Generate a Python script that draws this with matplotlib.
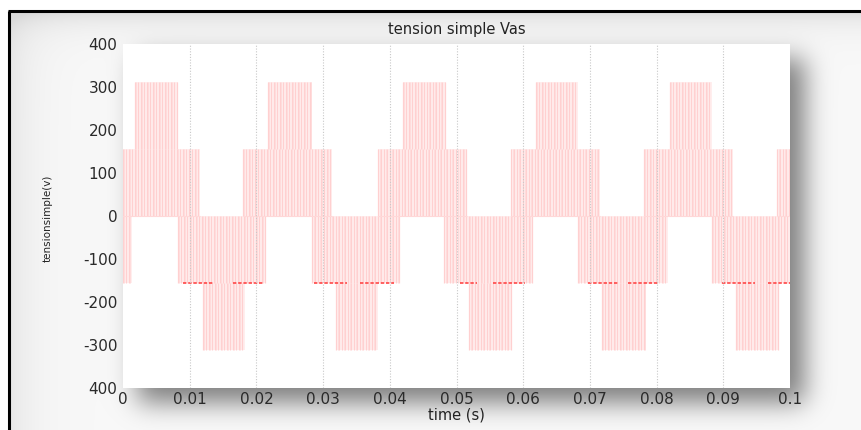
import math
import numpy as np
import matplotlib
matplotlib.use("Agg")
import matplotlib.pyplot as plt

# ---------------- data ----------------
E1 = 155.5   # first voltage level (V)
E2 = 311.0   # second voltage level (V)

# switching bands: (start, end) in seconds
band_0_to_E1 = [(0.0, 0.0115), (0.0180, 0.0314), (0.0383, 0.0516),
                (0.0582, 0.0715), (0.0781, 0.0915), (0.0981, 0.1)]
band_E1_to_E2 = [(0.00175, 0.00825), (0.0217, 0.0283), (0.0420, 0.0485),
                 (0.0619, 0.0682), (0.0820, 0.0883)]
band_mE1_to_0 = [(0.0, 0.0013), (0.0082, 0.0213), (0.0284, 0.0415),
                 (0.0482, 0.0614), (0.0682, 0.0817), (0.0883, 0.1)]
band_mE2_to_mE1 = [(0.0120, 0.01825), (0.0320, 0.0383), (0.0519, 0.0583),
                   (0.0718, 0.0784), (0.0919, 0.0984)]
# stretches where the signal dwells at -E1 (drawn darker)
dwell_mE1 = [(0.0090, 0.0135), (0.0165, 0.0210), (0.0286, 0.0336), (0.0356, 0.0406),
             (0.0505, 0.0530), (0.0555, 0.0603), (0.0697, 0.0744), (0.0757, 0.0802),
             (0.0898, 0.0948), (0.0967, 0.1)]
switch_step = 0.00045   # approximate spacing of the switching edges

x_ticks = [0, 0.01, 0.02, 0.03, 0.04, 0.05, 0.06, 0.07, 0.08, 0.09, 0.1]
x_labels = ["0", "0.01", "0.02", "0.03", "0.04", "0.05", "0.06", "0.07", "0.08", "0.09", "0.1"]
y_ticks = [400, 300, 200, 100, 0, -100, -200, -300, -400]
y_labels = ["400", "300", "200", "100", "0", "-100", "-200", "-300", "400"]

# ---------------- figure ----------------
W, H = 862, 430
fig = plt.figure(figsize=(W / 100, H / 100), dpi=100)

AX_L, AX_R, AX_T, AX_B = 123, 790, 44, 388

# background with gradient + drop shadow
yy, xx = np.mgrid[0:H, 0:W].astype(float)
bgv = 0.975 - 0.07 * np.exp(-(xx - 10) / 25.0) - 0.10 * np.exp(-(yy - 12) / 14.0)
bgv = np.clip(bgv, 0.85, 1.0)
erf = np.vectorize(math.erf)

def box_blur(coord, a, b, s):
    return 0.5 * (erf((b - coord) / (s * math.sqrt(2))) - erf((a - coord) / (s * math.sqrt(2))))

dx, dy, sig = 14, 14, 13
bx = box_blur(np.arange(W, dtype=float), AX_L + dx, AX_R + dx, sig)
by = box_blur(np.arange(H, dtype=float), AX_T + dy, AX_B + dy, sig)
shadow = np.outer(by, bx)
val = bgv * (1 - 0.5 * shadow)
outside = (xx < 9) | (yy < 11)
val[outside] = 1.0
img = np.dstack([val, val, val])

bg = fig.add_axes([0, 0, 1, 1], zorder=-10)
bg.imshow(img, extent=[0, W, H, 0], aspect="auto", interpolation="bilinear")
bg.set_xlim(0, W)
bg.set_ylim(H, 0)
bg.set_axis_off()
bg.plot([9, 9], [11, H + 5], color="black", lw=2.2, solid_capstyle="butt")
bg.plot([8, W + 5], [11, 11], color="black", lw=2.2, solid_capstyle="butt")

# main axes
ax = fig.add_axes([AX_L / W, 1 - AX_B / H, (AX_R - AX_L) / W, (AX_B - AX_T) / H])
ax.set_facecolor("white")
for s in ax.spines.values():
    s.set_visible(False)

fill_col = "#ffeeee"
line_col = "#ffd0d0"

def draw_bands(bands, lo, hi):
    for a, b in bands:
        ax.fill_between([a, b], lo, hi, color=fill_col, lw=0, zorder=1)
        xs = np.arange(a, b, switch_step)
        ax.vlines(xs, lo, hi, color=line_col, lw=0.9, zorder=2)
        xs2 = np.arange(a + switch_step * 0.45, b, switch_step * 2)
        ax.vlines(xs2, lo, hi, color="#ffdcdc", lw=0.7, zorder=2)

draw_bands(band_0_to_E1, 0, E1)
draw_bands(band_E1_to_E2, E1, E2)
draw_bands(band_mE1_to_0, -E1, 0)
draw_bands(band_mE2_to_mE1, -E2, -E1)

for a, b in band_0_to_E1:
    ax.hlines(0, a, b, color="#ffd8d8", lw=0.8, zorder=2)
for a, b in dwell_mE1:
    ax.hlines(-E1, a, b, color="#ff3a3a", lw=1.1, linestyles=(0, (2.2, 1.2)), zorder=3)

ax.set_xlim(0, 0.1)
ax.set_ylim(-400, 400)
ax.set_xticks(x_ticks)
ax.set_xticklabels(x_labels)
ax.set_yticks(y_ticks)
ax.set_yticklabels(y_labels)
ax.tick_params(length=0, labelsize=11, colors="#2a2a2a", pad=4)
ax.tick_params(axis="x", pad=3)
for xt in x_ticks[1:-1]:
    ax.axvline(xt, color="#c8c8c8", lw=0.8, linestyle=(0, (1, 1.5)), zorder=4)

ax.set_title("tension simple Vas", fontsize=10.5, color="#222222", pad=7)
ax.set_xlabel("time (s)", fontsize=10.5, color="#222222", labelpad=0)
fig.text(48 / W, 1 - 218 / H, "tensionsimple(v)", rotation=90, ha="center", va="center",
         fontsize=7.5, color="#222222")

fig.savefig("out.png", dpi=100)
